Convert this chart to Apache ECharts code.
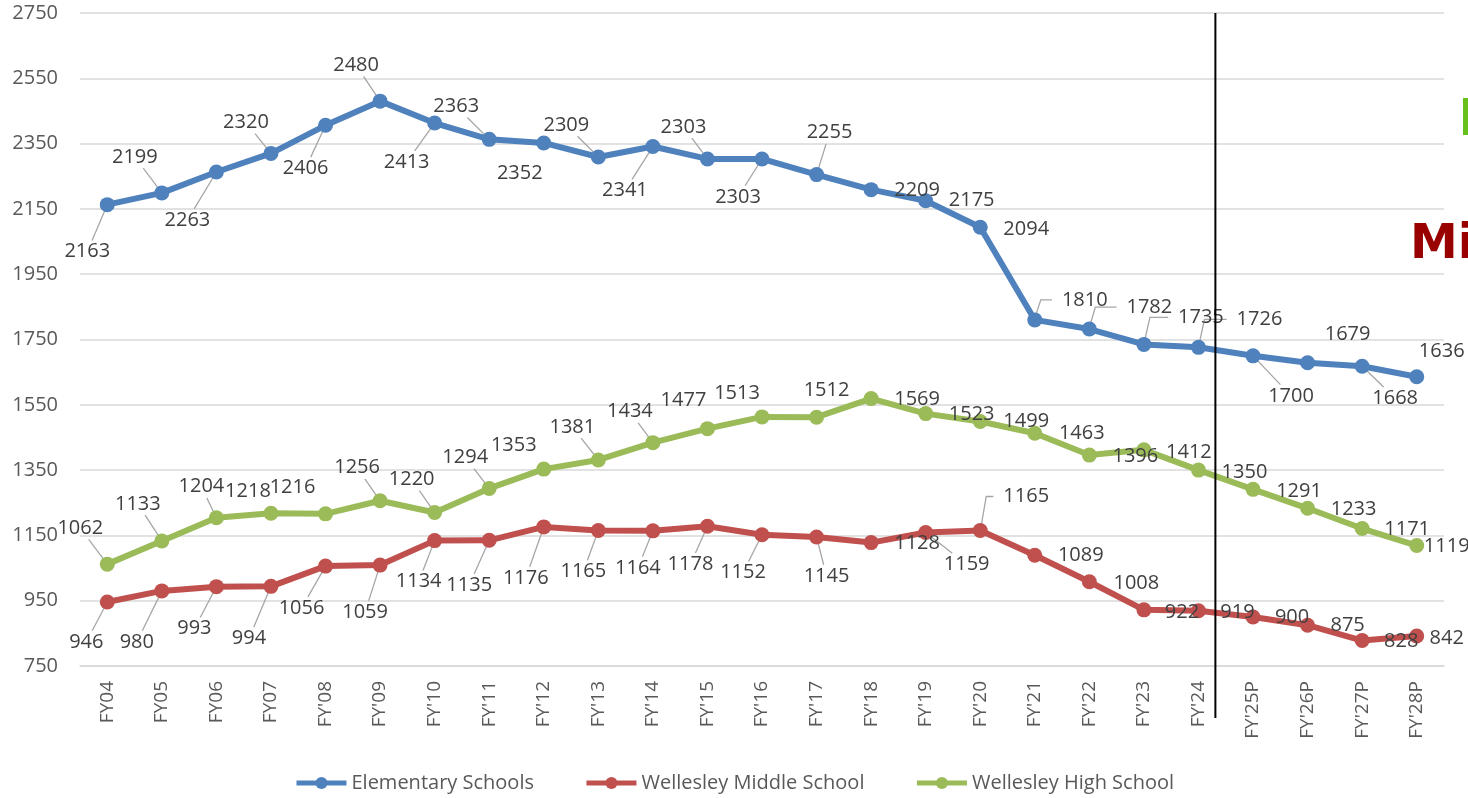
<!DOCTYPE html>
<html><head><meta charset="utf-8">
<script src="https://cdn.jsdelivr.net/npm/echarts@6/dist/echarts.min.js"></script>
<style>html,body{margin:0;padding:0;background:#fff;}#c{width:1468px;height:798px;}</style>
</head><body><div id="c"></div>
<script>
// ---------------- DATA ----------------
const categories = ["FY04","FY05","FY06","FY07","FY'08","FY'09","FY'10","FY'11","FY'12","FY'13","FY'14","FY'15","FY'16","FY'17","FY'18","FY'19","FY'20","FY'21","FY'22","FY'23","FY'24","FY'25P","FY'26P","FY'27P","FY'28P"];
const elementary = [2163,2199,2263,2320,2406,2480,2413,2363,2352,2309,2341,2303,2303,2255,2209,2175,2094,1810,1782,1735,1726,1700,1679,1668,1636];
const middle = [946,980,993,994,1056,1059,1134,1135,1176,1165,1164,1178,1152,1145,1128,1159,1165,1089,1008,922,919,900,875,828,842];
const high = [1062,1133,1204,1218,1216,1256,1220,1294,1353,1381,1434,1477,1513,1512,1569,1523,1499,1463,1396,1412,1350,1291,1233,1171,1119];
const seriesNames = ["Elementary Schools","Wellesley Middle School","Wellesley High School"];
const yMin = 750, yMax = 2750, yInterval = 200;
const dividerAfter = "FY'24";

// ---------------- LABEL PLACEMENT (px offsets from point, leader type: 0 none, 1 straight, 2 elbow) ----------------
const elemLabelPos = [[-20,47,1],[-27,-36,1],[-29,48,1],[-25,-31,1],[-20,43,1],[-24,-36,1],[-28,39,1],[-33,-33,1],[-24,30,0],[-32,-32,1],[-28,44,1],[-24,-32,1],[-24,38,1],[13,-42,1],[46,1,0],[46,0,0],[46,2,0],[50,-20,2],[60,-22,2],[57,-27,2],[61,-28,2],[38,40,1],[40,-28,0],[33,32,1],[25,-25,0]];
const midLabelPos = [[-21,40,1],[-25,51,1],[-22,42,1],[-22,52,1],[-24,42,1],[-15,47,1],[-16,41,1],[-20,45,1],[-18,51,1],[-15,41,1],[-15,37,1],[-17,38,1],[-19,38,1],[10,39,1],[46,1,0],[41,32,1],[46,-34,2],[46,0,0],[47,2,0],[38,2,0],[39,1,0],[39,0,0],[40,0,0],[39,1,0],[30,2,0]];
const highLabelPos = [[-27,-36,1],[-24,-37,1],[-15,-31,1],[-23,-22,0],[-33,-27,0],[-23,-33,1],[-23,-33,1],[-24,-31,1],[-30,-24,0],[-26,-33,1],[-23,-31,1],[-24,-28,0],[-25,-24,0],[10,-27,0],[46,1,0],[46,1,0],[46,0,0],[47,0,0],[46,1,0],[45,2,0],[46,2,0],[46,2,0],[46,1,0],[45,1,0],[30,1,0]];

const colors = ['#4F81BD','#C0504D','#9BBB59'];
const LABEL_FONT = 'Open Sans';
const LABEL_SIZE = 20;

const chart = echarts.init(document.getElementById('c'), null, {renderer:'canvas'});

function lineData(values, pos){
  return values.map((v,i)=>({value:v, label:{offset:[pos[i][0],pos[i][1]]}}));
}
function leaderData(values, pos){
  const out = [];
  values.forEach((v,i)=>{ if(pos[i][2]>0) out.push([i, v, pos[i][0], pos[i][1], pos[i][2], String(v).length]); });
  return out;
}
function renderLeader(params, api){
  const i = api.value(0), v = api.value(1), dx = api.value(2), dy = api.value(3), type = api.value(4), n = api.value(5);
  const p = api.coord([i, v]);
  const c = [p[0]+dx, p[1]+dy];
  const hw = n*5.7, hh = 10;
  let pts;
  if (type === 2){
    pts = [[p[0]+1, p[1]-5],[p[0]+6, c[1]],[c[0]-hw-10, c[1]]];
  } else {
    const ddx = p[0]-c[0], ddy = p[1]-c[1];
    const t = Math.min(hw/Math.max(Math.abs(ddx),1e-6), hh/Math.max(Math.abs(ddy),1e-6))*1.12;
    pts = [[c[0]+ddx*t, c[1]+ddy*t],[p[0], p[1]]];
  }
  return {type:'polyline', shape:{points:pts}, style:{stroke:'#a6a6a6', lineWidth:1.3, fill:null}};
}
function renderDivider(params, api){
  const idx = api.value(0);
  const bw = api.size([1,0])[0];
  const top = api.coord([idx, yMax]);
  const bot = api.coord([idx, yMin]);
  const x = top[0] + bw*0.31;
  return {type:'line', shape:{x1:x, y1:top[1], x2:x, y2:bot[1]+52}, style:{stroke:'#000', lineWidth:2}};
}

function lineSeries(name, values, pos, color){
  return {
    name, type:'line', data:lineData(values,pos), z:3,
    symbol:'circle', symbolSize:15, showSymbol:true, showAllSymbol:true,
    lineStyle:{width:6, color}, itemStyle:{color},
    label:{show:true, position:'inside', color:'#404040', fontSize:LABEL_SIZE, fontFamily:LABEL_FONT, align:'center', verticalAlign:'middle'},
    emphasis:{disabled:true}, animation:false
  };
}

const option = {
  animation:false,
  backgroundColor:'#ffffff',
  grid:{left:80, right:24, top:13, bottom:132, containLabel:false},
  xAxis:{
    type:'category', data:categories, boundaryGap:true,
    axisLine:{show:true, lineStyle:{color:'#d9d9d9', width:1.5}},
    axisTick:{show:false},
    axisLabel:{rotate:90, fontSize:19, color:'#595959', fontFamily:'Open Sans', margin:15, interval:0}
  },
  yAxis:{
    type:'value', min:yMin, max:yMax, interval:yInterval,
    axisLine:{show:false}, axisTick:{show:false},
    axisLabel:{fontSize:20, color:'#595959', fontFamily:'Open Sans', margin:22, formatter:(v)=>String(v)},
    splitLine:{lineStyle:{color:'#d9d9d9', width:1.5}}
  },
  legend:{
    data:seriesNames, bottom:0, left:'center', itemWidth:50, itemHeight:15, itemGap:50,
    lineStyle:{width:5},
    textStyle:{fontSize:20, color:'#595959', fontFamily:'Open Sans'}
  },
  series:[
    {type:'custom', name:'leaders-e', renderItem:renderLeader, data:leaderData(elementary, elemLabelPos), z:2, silent:true, clip:false, animation:false},
    {type:'custom', name:'leaders-m', renderItem:renderLeader, data:leaderData(middle, midLabelPos), z:2, silent:true, clip:false, animation:false},
    {type:'custom', name:'leaders-h', renderItem:renderLeader, data:leaderData(high, highLabelPos), z:2, silent:true, clip:false, animation:false},
    lineSeries(seriesNames[0], elementary, elemLabelPos, colors[0]),
    lineSeries(seriesNames[1], middle, midLabelPos, colors[1]),
    lineSeries(seriesNames[2], high, highLabelPos, colors[2]),
    {type:'custom', name:'divider', renderItem:renderDivider, data:[[categories.indexOf(dividerAfter)]], z:5, silent:true, clip:false, animation:false}
  ],
  graphic:[
    {type:'rect', left:1463, top:98, shape:{width:6, height:37}, style:{fill:'#66C21A'}},
    {type:'text', left:1410, top:222, style:{text:'Mi', fill:'#990000', font:'bold 48px "DejaVu Sans"'}}
  ]
};
chart.setOption(option);
</script>
</body></html>
